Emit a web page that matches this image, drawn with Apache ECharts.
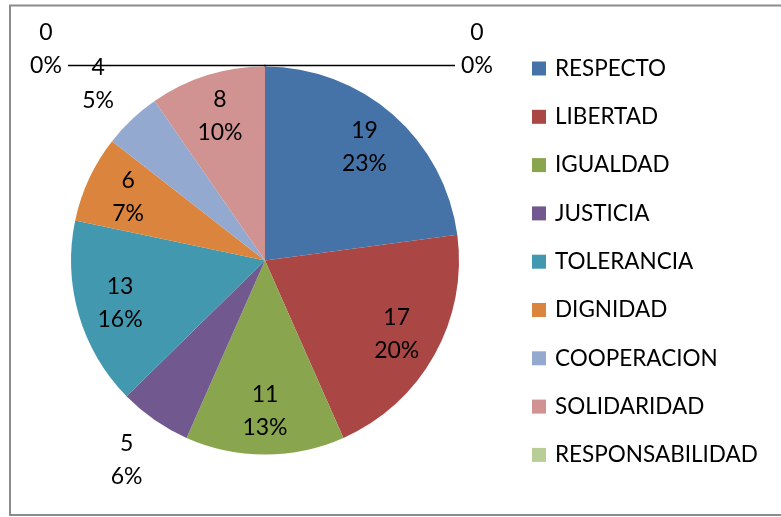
<!DOCTYPE html>
<html>
<head>
<meta charset="utf-8">
<script src="https://cdn.jsdelivr.net/npm/echarts@6/dist/echarts.min.js"></script>
<style>
  html, body { margin: 0; padding: 0; background: #ffffff; }
  #chart { width: 781px; height: 517px; }
</style>
</head>
<body>
<div id="chart"></div>
<script>
// Values by category (the last, unnamed category is empty and kept out of the legend)
const categories = ['RESPECTO', 'LIBERTAD', 'IGUALDAD', 'JUSTICIA', 'TOLERANCIA',
                    'DIGNIDAD', 'COOPERACION', 'SOLIDARIDAD', 'RESPONSABILIDAD', ''];
const counts = [19, 17, 11, 5, 13, 6, 4, 8, 0, 0];
const legendNames = categories.filter(n => n !== '');
const sliceColors = ['#4572A7', '#AA4643', '#89A54E', '#71588F', '#4198AF',
                     '#DB843D', '#93A9CF', '#D19392', '#B9CD96', '#A99BBD'];

// Slices whose labels sit just outside the pie rather than inside it
const outerLabelled = ['JUSTICIA', 'COOPERACION'];

const FONT = 'Lato, "Open Sans", sans-serif';
const LABEL_SIZE = 23;
const CENTER = [265, 260.5];
const R = 194;
const clear = 'rgba(0,0,0,0)';

const zeroIdx = counts.map((v, i) => (v === 0 ? i : -1)).filter(i => i >= 0);

function overlayData(showFn) {
  return categories.map((name, i) => ({
    name: name,
    value: counts[i],
    label: { show: showFn(i, name) }
  }));
}

const baseOverlay = {
  type: 'pie',
  center: CENTER,
  startAngle: 90,
  clockwise: true,
  avoidLabelOverlap: false,
  percentPrecision: 0,
  silent: true,
  animation: false,
  emphasis: { disabled: true },
  itemStyle: { color: clear, borderWidth: 0 }
};

const plainLabel = {
  position: 'inside',
  formatter: '{c}\n{d}%',
  color: '#000',
  fontFamily: FONT,
  fontSize: LABEL_SIZE,
  lineHeight: 33
};

// Leader-line labels for the empty categories; the tiny start-angle offsets
// send one label to each side of the top of the pie.
function zeroSeries(idx, startAngle, len2) {
  return Object.assign({}, baseOverlay, {
    radius: R,
    startAngle: startAngle,
    label: {
      position: 'outside',
      formatter: '{v|{c}}\n{v|{d}%}',
      padding: [0, 0, 33, 0],
      distanceToLabelLine: 4,
      rich: {
        v: { width: 36, align: 'center', color: '#000', fontFamily: FONT, fontSize: LABEL_SIZE, lineHeight: 33 }
      }
    },
    labelLine: {
      show: true,
      length: 1,
      length2: len2,
      lineStyle: { color: '#000', width: 1.5 }
    },
    data: overlayData(i => i === idx)
  });
}

const chart = echarts.init(document.getElementById('chart'), null, { renderer: 'canvas' });

chart.setOption({
  backgroundColor: '#ffffff',
  animation: false,
  graphic: [{
    type: 'rect',
    silent: true,
    z: -10,
    shape: { x: 10, y: 5.5, width: 800, height: 509.5 },
    style: { fill: 'none', stroke: '#8c8c8c', lineWidth: 2 }
  }],
  legend: {
    data: legendNames,
    orient: 'vertical',
    left: 527,
    top: 52,
    itemWidth: 14,
    itemHeight: 14,
    itemGap: 25.3,
    icon: 'rect',
    selectedMode: false,
    textStyle: { color: '#000', fontFamily: FONT, fontSize: 22.5, lineHeight: 22, padding: [0, 0, 0, 4] }
  },
  series: [
    {
      type: 'pie',
      center: CENTER,
      radius: R,
      startAngle: 90,
      clockwise: true,
      animation: false,
      emphasis: { disabled: true },
      label: { show: false },
      labelLine: { show: false },
      itemStyle: { borderWidth: 0 },
      data: categories.map((name, i) => ({
        name: name,
        value: counts[i],
        itemStyle: { color: sliceColors[i] }
      }))
    },
    // labels inside the slices
    Object.assign({}, baseOverlay, {
      radius: [102, R],
      label: plainLabel,
      labelLine: { show: false },
      data: overlayData((i, n) => counts[i] > 0 && outerLabelled.indexOf(n) < 0)
    }),
    // labels just outside the small slices
    Object.assign({}, baseOverlay, {
      radius: [206, 274],
      label: plainLabel,
      labelLine: { show: false },
      data: overlayData((i, n) => outerLabelled.indexOf(n) >= 0)
    }),
    zeroSeries(zeroIdx[0], 90.001, 197),
    zeroSeries(zeroIdx[1], 89.999, 190)
  ]
});
</script>
</body>
</html>
